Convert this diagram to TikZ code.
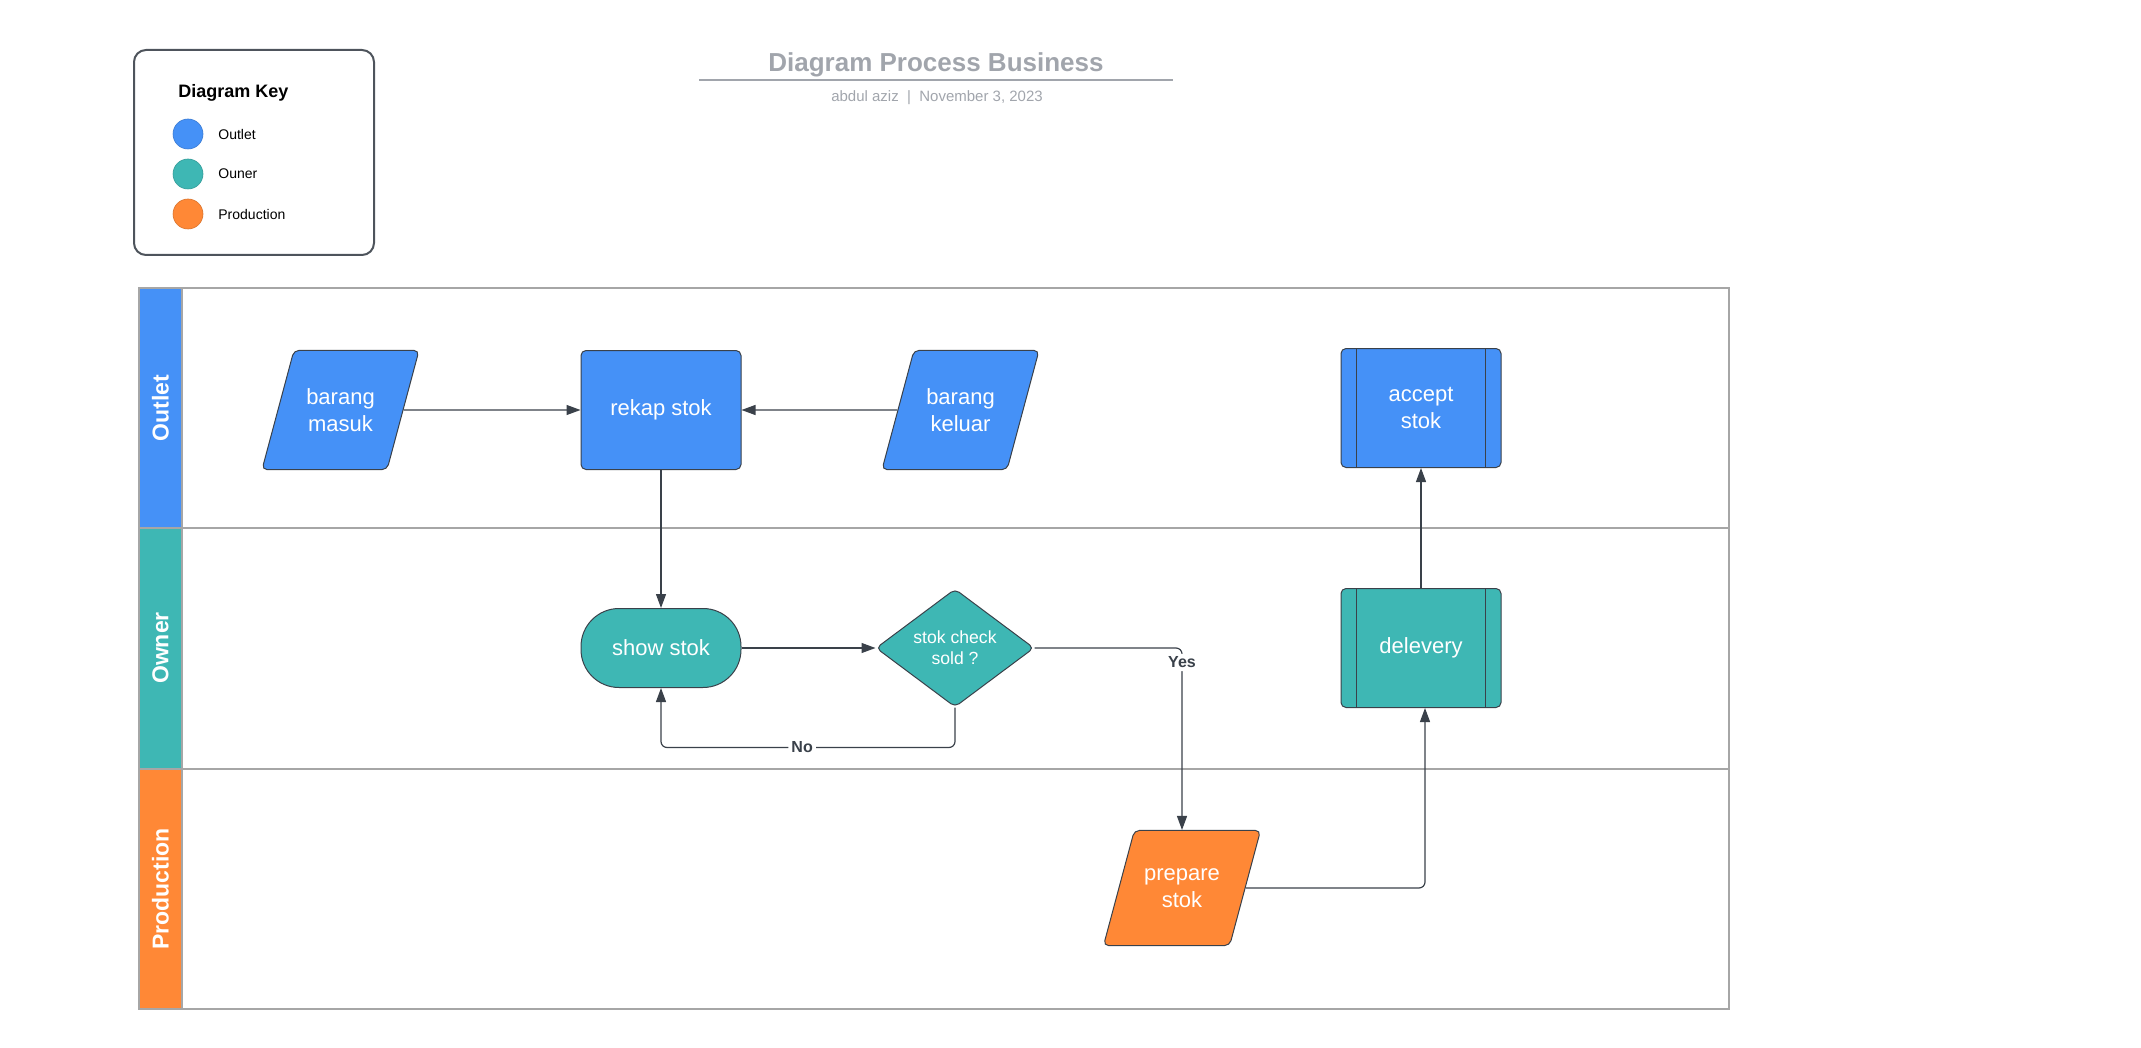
\documentclass[tikz,border=0pt]{standalone}
\usepackage{fontspec}
\setmainfont{Liberation Sans}
\usetikzlibrary{shapes.geometric,arrows.meta}

\definecolor{outletblue}{RGB}{69,145,247}
\definecolor{ownerteal}{RGB}{62,183,180}
\definecolor{prodorange}{RGB}{255,136,54}
\definecolor{lanegray}{RGB}{166,166,166}
\definecolor{edgedark}{RGB}{58,65,74}
\definecolor{titlegray}{RGB}{161,165,172}

\tikzset{
	box/.style={draw=edgedark, line width=0.5pt, text=white, align=center,
		rounded corners=2.5pt, inner sep=0pt, font=\fontsize{11}{13.5}\selectfont},
	proc/.style={box, rectangle, minimum width=80pt, minimum height=59.5pt},
	iobox/.style={box, trapezium, trapezium left angle=75, trapezium right angle=105,
		trapezium stretches body, inner ysep=19pt, minimum width=78.5pt},
	term/.style={box, rectangle, rounded corners=19pt, minimum width=80pt, minimum height=39.5pt},
	decide/.style={box, diamond, aspect=1.34, minimum width=79pt, minimum height=59pt,
		font=\fontsize{8.8}{10.5}\selectfont},
	lanename/.style={text=white, rotate=90, font=\bfseries\fontsize{11.5}{13}\selectfont},
	keyname/.style={anchor=west, inner sep=0pt, font=\fontsize{7}{8}\selectfont},
	flow/.style={draw=edgedark, line width=0.6pt, -{Triangle[length=7pt,width=5pt]}},
	lbl/.style={fill=white, text=edgedark, inner sep=1.5pt, font=\bfseries\fontsize{8}{9.6}\selectfont},
}

\begin{document}
\begin{tikzpicture}[x=0.5pt,y=-0.5pt]
		\useasboundingbox (0,0) rectangle (2141,1048);
		% title
		\node[text=titlegray, font=\bfseries\fontsize{13}{15}\selectfont] (title) at (936,65) {Diagram Process Business};
		\draw[titlegray, line width=1pt] (699,80) -- (1173,80);
		\node[text=titlegray, font=\fontsize{7.5}{9}\selectfont] (byline) at (937,98) {abdul aziz\ \ |\ \ November 3, 2023};
		% key
		\draw[edgedark!90!white, line width=1pt, rounded corners=6pt] (134,50) rectangle (374,255);
		\node[anchor=west, inner sep=0pt, font=\bfseries\fontsize{9}{11}\selectfont] (keytitle) at (178,93) {Diagram Key};
		\foreach \y/\c/\t in {134/outletblue/Outlet, 174/ownerteal/Ouner, 214/prodorange/Production} {
			\filldraw[fill=\c, draw=\c!85!black, line width=0.3pt] (188,\y) circle (15);
			\node[keyname] at (218,\y) {\t};
		}
		% lanes
		\fill[outletblue] (139,288) rectangle (182,528);
		\fill[ownerteal] (139,528) rectangle (182,769);
		\fill[prodorange] (139,769) rectangle (182,1009);
		\draw[lanegray, line width=0.8pt] (139,288) rectangle (1729,1009);
		\draw[lanegray, line width=0.8pt] (139,528) -- (1729,528);
		\draw[lanegray, line width=0.8pt] (139,769) -- (1729,769);
		\draw[lanegray, line width=0.8pt] (182,288) -- (182,1009);
		\node[lanename] (laneoutlet) at (160.5,408) {Outlet};
		\node[lanename] (laneowner) at (160.5,648) {Owner};
		\node[lanename] (laneprod) at (160.5,889) {Production};
		% steps
		\node[iobox, fill=outletblue] (masuk) at (340.5,410) {barang\\masuk};
		\node[proc, fill=outletblue] (rekap) at (661,410) {rekap stok};
		\node[iobox, fill=outletblue] (keluar) at (960.5,410) {barang\\keluar};
		\node[proc, fill=outletblue] (accept) at (1421,408) {accept\\stok};
		\node[term, fill=ownerteal] (show) at (661,648) {show stok};
		\node[decide, fill=ownerteal] (check) at (955,648) {stok check\\sold ?};
		\node[proc, fill=ownerteal] (delevery) at (1421,648) {delevery};
		\node[iobox, fill=prodorange] (prepare) at (1182,888) {prepare\\stok};
		\foreach \n in {accept,delevery} {
			\draw[edgedark, line width=0.5pt] ([xshift=8pt]\n.north west) -- ([xshift=8pt]\n.south west);
			\draw[edgedark, line width=0.5pt] ([xshift=-8pt]\n.north east) -- ([xshift=-8pt]\n.south east);
		}
		% connectors
		\draw[flow] (masuk) -- (rekap);
		\draw[flow] (keluar) -- (rekap);
		\draw[flow] (rekap) -- (show);
		\draw[flow] (show) -- (check);
		\draw[flow, rounded corners=3pt] (check.east) -| node[lbl, pos=0.54] {Yes} (prepare.north);
		\draw[flow, rounded corners=3pt] (check.south) -- ++(0,40) -| node[lbl, pos=0.26] {No} (show.south);
		\draw[flow, rounded corners=3pt] (prepare.east) -| ([xshift=2pt]delevery.south);
		\draw[flow] (delevery) -- (accept);
\end{tikzpicture}
\end{document}
